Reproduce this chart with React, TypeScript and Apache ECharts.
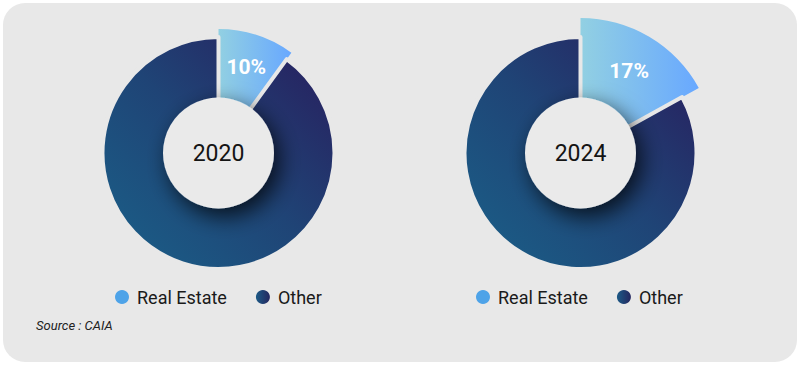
import React, { useEffect, useRef } from "react";
import * as echarts from "echarts";

const years = ["2020", "2024"];
const categories = ["Real Estate", "Other"];
const realEstateShare = [10, 17];
const otherShare = [90, 83];
const sourceText = "Source : CAIA";

const centers: [number, number][] = [
  [218.5, 153],
  [580.5, 153],
];
const reOuter = [124, 135];

const reGradient = () =>
  new echarts.graphic.LinearGradient(0, 0, 1, 0, [
    { offset: 0, color: "#92d0e2" },
    { offset: 1, color: "#68a8ff" },
  ]);
const otherGradient = () =>
  new echarts.graphic.LinearGradient(0, 1, 1, 0, [
    { offset: 0, color: "#1a6189" },
    { offset: 0.5, color: "#1f4476" },
    { offset: 1, color: "#291b5c" },
  ]);
const legendOther = () =>
  new echarts.graphic.LinearGradient(0, 0, 1, 0, [
    { offset: 0, color: "#1c5a86" },
    { offset: 1, color: "#25275f" },
  ]);

const BG = "#e8e8e8";
const FONT = "Roboto, 'DejaVu Sans', sans-serif";

export default function App() {
  const ref = useRef<HTMLDivElement>(null);
  useEffect(() => {
    if (!ref.current) return;
    const chart = echarts.init(ref.current, undefined, { renderer: "svg" });
    const series: any[] = [];
    years.forEach((yr, i) => {
      const center = centers[i];
      series.push({
        type: "pie",
        silent: true,
        center,
        radius: [50, reOuter[i]],
        startAngle: 90,
        z: 1,
        label: {
          show: true,
          position: "inside",
          formatter: "{c}%",
          color: "#fff",
          fontFamily: FONT,
          fontWeight: "bold",
          fontSize: 21,
        },
        labelLine: { show: false },
        data: [
          { name: categories[0], value: realEstateShare[i], itemStyle: { color: reGradient() } },
          { name: categories[1], value: otherShare[i], itemStyle: { color: "rgba(0,0,0,0)" }, label: { show: false } },
        ],
      });
      series.push({
        type: "pie",
        silent: true,
        center,
        radius: [50, 116],
        startAngle: 90,
        z: 2,
        label: { show: false },
        labelLine: { show: false },
        data: [
          { name: categories[0], value: realEstateShare[i], itemStyle: { color: "rgba(0,0,0,0)" } },
          {
            name: categories[1],
            value: otherShare[i],
            itemStyle: { color: otherGradient(), borderColor: BG, borderWidth: 4 },
          },
        ],
      });
      series.push({
        type: "pie",
        silent: true,
        center,
        radius: [0, 55.5],
        z: 3,
        label: {
          show: true,
          position: "center",
          formatter: yr,
          color: "#141414",
          fontFamily: FONT,
          fontSize: 23,
        },
        labelLine: { show: false },
        data: [
          {
            name: yr,
            value: 1,
            itemStyle: {
              color: "#eaeaea",
              shadowBlur: 22,
              shadowColor: "rgba(0,0,0,0.75)",
              shadowOffsetX: 6,
              shadowOffsetY: 8,
            },
          },
        ],
      });
    });

    const legendLefts = [115, 476];
    const legends = legendLefts.map((l) => ({
      left: l,
      top: 288,
      padding: 0,
      orient: "horizontal",
      icon: "circle",
      itemWidth: 14,
      itemHeight: 14,
      itemGap: 29,
      selectedMode: false,
      textStyle: { fontFamily: FONT, fontSize: 18, color: "#1a1a1a", padding: [0, 0, 0, 3] },
      data: [
        { name: categories[0], itemStyle: { color: "#4ea3e8" } },
        { name: categories[1], itemStyle: { color: legendOther() } },
      ],
    }));

    chart.setOption({
      animation: false,
      backgroundColor: "#ffffff",
      graphic: [
        {
          type: "rect",
          z: -10,
          shape: { x: 3, y: 3, width: 794, height: 359, r: 22 },
          style: { fill: BG },
          silent: true,
        },
        {
          type: "text",
          left: 36,
          top: 319,
          style: {
            text: sourceText,
            fontFamily: FONT,
            fontStyle: "italic",
            fontSize: 13,
            fill: "#222",
          },
          silent: true,
        },
      ],
      legend: legends,
      series,
    });
    return () => chart.dispose();
  }, []);
  return (
    <div
      ref={ref}
      style={{ position: "absolute", left: 0, top: 0, width: 800, height: 365 }}
    />
  );
}
